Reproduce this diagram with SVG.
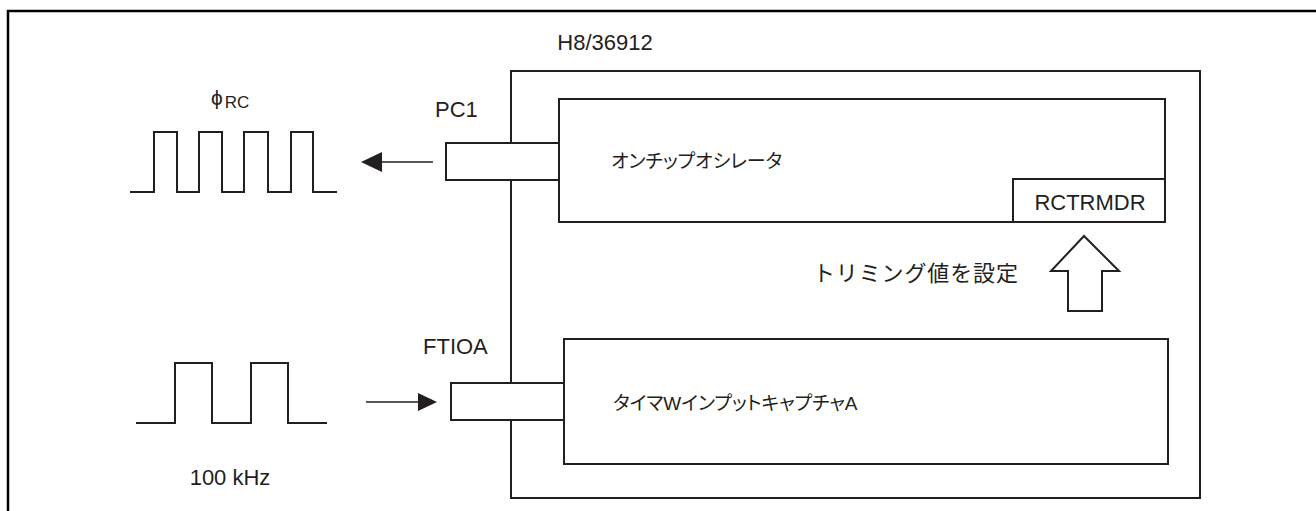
<svg xmlns="http://www.w3.org/2000/svg" width="1316" height="511" viewBox="0 0 1316 511">
<style>
.ln{fill:none;stroke:#231f20;stroke-width:2}
.bx{fill:#fff;stroke:#231f20;stroke-width:2}
.th{fill:none;stroke:#231f20;stroke-width:1.5}
.hd{fill:#231f20;stroke:none}
.t{font-family:"Liberation Sans","Noto Sans CJK JP",sans-serif;font-size:22px;fill:#231f20}
.j{font-family:"Liberation Sans","Noto Sans CJK JP",sans-serif;font-size:19px;fill:#231f20;font-feature-settings:"palt" 1}
</style>
<rect width="1316" height="511" fill="#fff"/>
<path d="M8,511 V11 H1316" fill="none" stroke="#000" stroke-width="2.5"/>
<g id="chip">
<rect class="ln" x="511" y="71" width="689" height="427"/>
<text class="t" x="605" y="50" text-anchor="middle" font-size="20">H8/36912</text>
</g>
<g id="oscillator">
<rect class="ln" x="559" y="99" width="606" height="123"/>
<text class="j" x="611" y="168">オンチップオシレータ</text>
</g>
<g id="rctrmdr">
<rect class="bx" x="1013" y="179" width="152" height="43"/>
<text class="t" x="1090" y="210" text-anchor="middle">RCTRMDR</text>
</g>
<g id="pc1">
<rect class="bx" x="446" y="143" width="113" height="37"/>
<text class="t" x="435" y="117">PC1</text>
</g>
<g id="timer">
<rect class="ln" x="564" y="339" width="604" height="125"/>
<text class="j" x="613" y="410">タイマWインプットキャプチャA</text>
</g>
<g id="ftioa">
<rect class="bx" x="451" y="383" width="113" height="37"/>
<text class="t" x="423" y="354">FTIOA</text>
</g>
<g id="phirc">
<path class="ln" d="M130,192 H154 V132 H177 V192 H199 V132 H222 V192 H244 V132 H268 V192 H291 V132 H313 V192 H337"/>
<text class="t" x="211" y="105"><tspan font-size="21">ϕ</tspan><tspan font-size="17" dy="3" dx="2">RC</tspan></text>
</g>
<g id="clk100k">
<path class="ln" d="M136,423 H175 V363 H212 V423 H251 V363 H288 V423 H327"/>
<text class="t" x="230" y="485" text-anchor="middle">100 kHz</text>
</g>
<g id="trim">
<text class="t" x="813" y="281" font-size="20" textLength="205" lengthAdjust="spacing">トリミング値を設定</text>
</g>
<g id="connectors">
<line class="th" x1="433" y1="162" x2="380" y2="162"/>
<polygon class="hd" points="361,162 382,152 382,172"/>
<line class="th" x1="366" y1="402" x2="420" y2="402"/>
<polygon class="hd" points="437,402 418,393 418,411"/>
<polygon class="ln" points="1084,236 1119,271 1102,271 1102,311 1068,311 1068,271 1051,271"/>
</g>
</svg>
